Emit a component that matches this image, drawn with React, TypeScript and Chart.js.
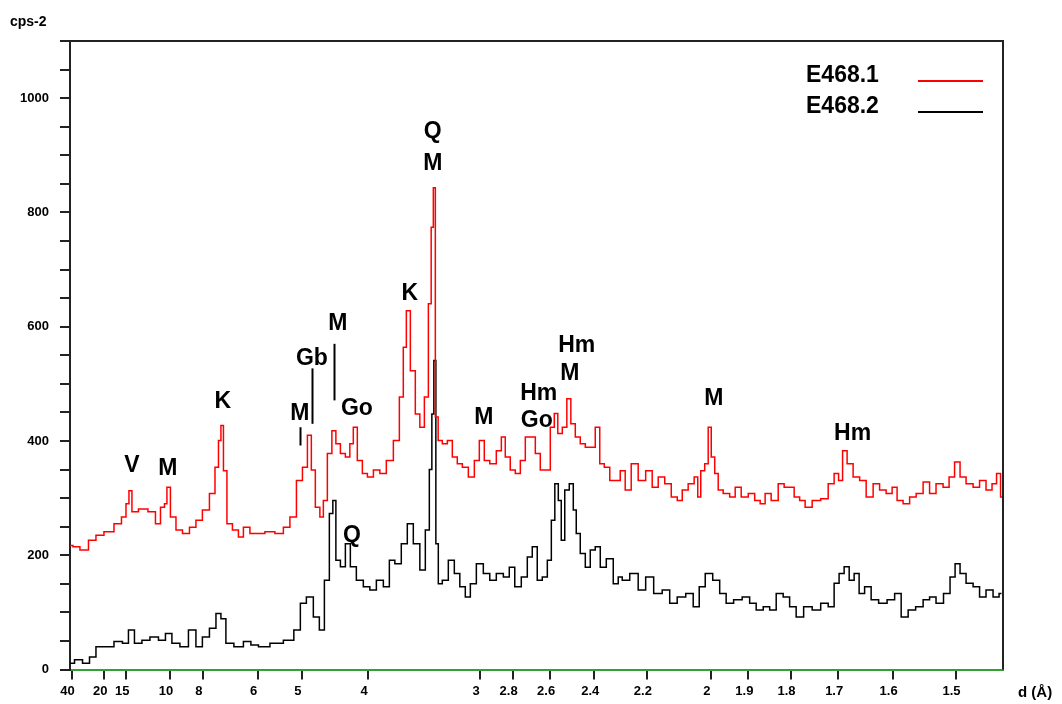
import React, { useEffect, useRef } from "react";
import { Chart, registerables } from "chart.js";

Chart.register(...registerables);

// X-ray wavelength (Cu K-alpha, Å) used to place d-spacing ticks on the 2θ axis
const WAVELENGTH = 1.5406;

// d-spacing tick labels (Å)
const dTickLabels = [40, 20, 15, 10, 8, 6, 5, 4, 3, 2.8, 2.6, 2.4, 2.2, 2, 1.9, 1.8, 1.7, 1.6, 1.5];

// Series E468.1 (red): 2θ positions (deg) and intensities
const redTheta = [
  2.1, 2.5, 3.04, 3.65, 4.05, 4.73, 5.4, 5.74, 6.01, 6.14,
  6.41, 7.02, 7.69, 8.03, 8.37, 8.57, 8.7, 9.04, 9.45, 9.92,
  10.39, 10.79, 11.26, 11.74, 12.01, 12.21, 12.34, 12.55, 12.81, 13.29,
  13.62, 13.96, 14.5, 14.9, 15.58, 16.25, 16.72, 17.13, 17.6, 17.94,
  18.27, 18.47, 18.81, 19.08, 19.28, 19.62, 19.89, 20.16, 20.5, 20.83,
  21.1, 21.3, 21.64, 21.98, 22.32, 22.79, 23.19, 23.66, 24.14, 24.47,
  24.67, 24.88, 25.21, 25.55, 25.82, 26.16, 26.36, 26.54, 26.65, 26.81,
  27.03, 27.37, 27.71, 28.04, 28.38, 28.72, 29.19, 29.53, 29.86, 30.2,
  30.6, 31.08, 31.28, 31.61, 31.95, 32.29, 32.63, 32.96, 33.3, 33.64,
  33.97, 34.31, 34.65, 34.85, 35.12, 35.46, 35.73, 36.0, 36.33, 36.67,
  37.01, 37.34, 37.68, 37.95, 38.29, 38.69, 39.03, 39.36, 39.7, 40.17,
  40.64, 41.18, 41.52, 41.99, 42.4, 42.87, 43.21, 43.54, 44.01, 44.35,
  44.49, 44.76, 45.02, 45.23, 45.43, 45.7, 45.9, 46.37, 46.78, 47.11,
  47.59, 48.06, 48.46, 48.8, 49.13, 49.61, 50.08, 50.41, 50.75, 51.09,
  51.49, 51.83, 52.44, 52.98, 53.45, 53.78, 54.05, 54.32, 54.66, 55.13,
  55.54, 56.01, 56.48, 56.88, 57.36, 57.69, 58.03, 58.5, 58.91, 59.38,
  59.85, 60.25, 60.72, 61.2, 61.53, 61.94, 62.27, 62.75, 63.22, 63.62,
  64.09, 64.43, 64.7, 64.97,
];
const redCps = [
  217, 215, 209, 226, 235, 241, 255, 267, 290, 313,
  276, 281, 276, 255, 284, 290, 319, 267, 244, 238,
  249, 261, 279, 308, 354, 401, 427, 348, 255, 244,
  232, 249, 238, 238, 241, 238, 249, 267, 331, 354,
  410, 349, 284, 267, 296, 378, 418, 395, 378, 372,
  395, 424, 366, 343, 337, 349, 343, 366, 401, 477,
  564, 628, 523, 447, 424, 477, 640, 774, 843, 442,
  401, 395, 401, 372, 360, 354, 337, 366, 401, 366,
  360, 383, 407, 372, 349, 343, 366, 407, 407, 378,
  349, 349, 424, 448, 413, 424, 474, 430, 407, 395,
  389, 389, 424, 360, 354, 331, 331, 348, 314, 360,
  331, 348, 319, 337, 325, 302, 296, 314, 325, 337,
  302, 348, 360, 424, 372, 343, 314, 308, 302, 319,
  302, 308, 296, 290, 308, 296, 325, 319, 319, 302,
  296, 284, 296, 299, 325, 343, 331, 383, 360, 337,
  331, 302, 325, 314, 308, 319, 296, 290, 302, 308,
  328, 308, 325, 319, 337, 363, 337, 325, 319, 331,
  314, 325, 343, 302,
];

// Series E468.2 (black): 2θ positions (deg) and intensities
const blackTheta = [
  2.1, 2.71, 3.18, 3.65, 4.05, 4.73, 5.4, 5.87, 6.21, 6.68,
  7.22, 7.76, 8.37, 8.7, 9.24, 9.78, 10.39, 10.79, 11.26, 11.74,
  12.14, 12.41, 12.81, 13.49, 14.09, 14.5, 15.11, 16.05, 16.92, 17.46,
  17.8, 18.27, 18.74, 19.08, 19.42, 19.75, 19.89, 20.16, 20.5, 20.83,
  21.17, 21.64, 22.11, 22.52, 22.99, 23.46, 23.8, 24.2, 24.67, 25.01,
  25.48, 25.89, 26.22, 26.43, 26.56, 26.7, 26.83, 27.03, 27.37, 27.84,
  28.18, 28.58, 28.92, 29.26, 29.73, 30.2, 30.6, 31.08, 31.55, 31.88,
  32.29, 32.76, 33.1, 33.43, 33.77, 34.11, 34.45, 34.65, 34.92, 35.12,
  35.32, 35.59, 35.93, 36.13, 36.33, 36.67, 37.01, 37.34, 37.68, 38.02,
  38.49, 38.96, 39.16, 39.5, 40.17, 40.64, 41.18, 41.72, 42.33, 42.73,
  43.34, 43.88, 44.35, 44.69, 45.16, 45.7, 46.1, 46.57, 47.11, 47.72,
  48.12, 48.6, 49.07, 49.47, 49.95, 50.41, 50.82, 51.29, 51.83, 52.44,
  52.98, 53.45, 53.78, 54.12, 54.46, 54.8, 55.13, 55.47, 55.87, 56.35,
  56.88, 57.49, 57.9, 58.37, 58.84, 59.38, 59.85, 60.25, 60.72, 61.26,
  61.6, 61.94, 62.27, 62.75, 63.22, 63.62, 64.09, 64.57, 64.9,
];
const blackCps = [
  11, 17, 11, 22, 40, 40, 49, 46, 69, 46,
  51, 57, 51, 63, 46, 40, 69, 40, 57, 72,
  98, 89, 46, 40, 49, 43, 40, 46, 51, 69,
  116, 127, 92, 69, 156, 273, 296, 191, 180, 220,
  180, 156, 145, 139, 156, 145, 191, 185, 220, 255,
  220, 174, 244, 350, 447, 541, 220, 150, 156, 191,
  168, 145, 127, 150, 185, 168, 156, 168, 162, 179,
  145, 162, 197, 215, 156, 162, 191, 261, 325, 296,
  226, 314, 325, 279, 238, 203, 179, 209, 215, 179,
  194, 150, 162, 156, 168, 139, 162, 133, 139, 116,
  127, 133, 110, 145, 168, 156, 133, 116, 122, 127,
  116, 104, 110, 104, 133, 127, 110, 92, 110, 104,
  116, 110, 151, 168, 180, 156, 168, 133, 145, 122,
  116, 122, 133, 92, 104, 110, 122, 127, 116, 133,
  162, 185, 168, 151, 145, 127, 139, 127, 133,
];

// Phase labels (text, 2θ, intensity)
const phaseLabels: [string, number, number][] = [
  ["V", 6.28, 357],
  ["M", 8.7, 352],
  ["K", 12.41, 469],
  ["M", 17.6, 448],
  ["Gb", 18.41, 544],
  ["M", 20.16, 605],
  ["Go", 21.44, 457],
  ["Q", 21.1, 235],
  ["K", 25.01, 658],
  ["Q", 26.56, 942],
  ["M", 26.56, 885],
  ["M", 30.0, 441],
  ["Hm", 33.7, 483],
  ["Go", 33.57, 436],
  ["Hm", 36.26, 567],
  ["M", 35.79, 518],
  ["M", 45.5, 474],
  ["Hm", 54.86, 413],
];

// Marker lines (2θ, from intensity, to intensity)
const markerLines: [number, number, number][] = [
  [17.6, 392, 424],
  [18.41, 430, 527],
  [19.89, 471, 570],
];

const seriesNames = ["E468.1", "E468.2"];
const seriesColors = ["#ff0000", "#000000"];

function braggTwoTheta(d: number): number {
  return (2 * Math.asin(WAVELENGTH / (2 * d)) * 180) / Math.PI;
}

const FONT = '"Liberation Sans", Arial, sans-serif';

const overlayPlugin = {
  id: "overlay",
  afterDraw(chart: any) {
    const { ctx, chartArea, scales } = chart;
    const xs = scales.x;
    const ys = scales.y;
    ctx.save();
    // top and right frame
    ctx.strokeStyle = "#222";
    ctx.lineWidth = 2;
    ctx.beginPath();
    ctx.moveTo(chartArea.left, chartArea.top);
    ctx.lineTo(chartArea.right, chartArea.top);
    ctx.lineTo(chartArea.right, chartArea.bottom);
    ctx.stroke();

    // phase labels
    ctx.fillStyle = "#000";
    ctx.font = `bold 23px ${FONT}`;
    ctx.textAlign = "center";
    ctx.textBaseline = "middle";
    for (const [t, x, y] of phaseLabels) {
      ctx.fillText(t, xs.getPixelForValue(x), ys.getPixelForValue(y));
    }
    // marker lines
    ctx.strokeStyle = "#000";
    ctx.lineWidth = 2;
    for (const [x, y0, y1] of markerLines) {
      const px = Math.round(xs.getPixelForValue(x)) + 0.5;
      ctx.beginPath();
      ctx.moveTo(px, ys.getPixelForValue(y0));
      ctx.lineTo(px, ys.getPixelForValue(y1));
      ctx.stroke();
    }

    // legend
    ctx.textAlign = "left";
    ctx.textBaseline = "alphabetic";
    ctx.font = `bold 23px ${FONT}`;
    seriesNames.forEach((name, i) => {
      const baseY = 82 + i * 31;
      ctx.fillStyle = "#000";
      ctx.fillText(name, 806, baseY);
      ctx.strokeStyle = seriesColors[i];
      ctx.lineWidth = 2;
      ctx.beginPath();
      ctx.moveTo(918, baseY - 1);
      ctx.lineTo(983, baseY - 1);
      ctx.stroke();
    });

    // axis titles
    ctx.fillStyle = "#000";
    ctx.font = `bold 14px ${FONT}`;
    ctx.textBaseline = "middle";
    ctx.textAlign = "left";
    ctx.fillText("cps-2", 10, 22);
    ctx.font = `bold 15px ${FONT}`;
    ctx.fillText("d (Å)", 1018, 693);
    ctx.restore();
  },
};

export default function App() {
  const canvasRef = useRef<HTMLCanvasElement | null>(null);

  useEffect(() => {
    const canvas = canvasRef.current;
    if (!canvas) return;
    const redData = redTheta.map((x, i) => ({ x, y: redCps[i] }));
    const blackData = blackTheta.map((x, i) => ({ x, y: blackCps[i] }));
    const chart = new Chart(canvas, {
      type: "line",
      data: {
        datasets: [
          {
            label: seriesNames[0],
            data: redData,
            borderColor: seriesColors[0],
            borderWidth: 1.5,
            pointRadius: 0,
            stepped: "middle",
          },
          {
            label: seriesNames[1],
            data: blackData,
            borderColor: seriesColors[1],
            borderWidth: 1.5,
            pointRadius: 0,
            stepped: "middle",
          },
        ],
      },
      options: {
        responsive: false,
        animation: false,
        layout: { padding: { top: 41, right: 59, left: 0, bottom: 0 } },
        plugins: {
          legend: { display: false },
          tooltip: { enabled: false },
          title: { display: false },
        },
        scales: {
          x: {
            type: "linear",
            min: 2.1,
            max: 65,
            afterBuildTicks: (scale: any) => {
              scale.ticks = dTickLabels.map((d) => ({ value: braggTwoTheta(d) }));
            },
            afterFit: (scale: any) => {
              scale.height = 34.5;
            },
            ticks: {
              autoSkip: false,
              maxRotation: 0,
              minRotation: 0,
              padding: 4,
              labelOffset: -4,
              color: "#000",
              font: { family: FONT, size: 13, weight: "bold" },
              callback: (_v: any, i: number) => String(dTickLabels[i]),
            },
            grid: {
              drawOnChartArea: false,
              drawTicks: true,
              tickLength: 10,
              color: "#222",
              lineWidth: 2,
            },
            border: { display: true, color: "#33a033", width: 2 },
          },
          y: {
            type: "linear",
            min: 0,
            max: 1100,
            afterFit: (scale: any) => {
              scale.width = 70;
            },
            ticks: {
              stepSize: 50,
              autoSkip: false,
              padding: 11,
              color: "#000",
              font: { family: FONT, size: 13, weight: "bold" },
              callback: (v: any) => (v % 200 === 0 && v <= 1000 ? String(v) : ""),
            },
            grid: {
              drawOnChartArea: false,
              drawTicks: true,
              tickLength: 10,
              color: "#222",
              lineWidth: 2,
            },
            border: { display: true, color: "#222", width: 2 },
          },
        },
      },
      plugins: [overlayPlugin],
    });
    return () => chart.destroy();
  }, []);

  return (
    <div style={{ position: "fixed", left: 0, top: 0, width: 1062, height: 704, background: "#fff" }}>
      <canvas ref={canvasRef} width={1062} height={704} style={{ display: "block" }} />
    </div>
  );
}
